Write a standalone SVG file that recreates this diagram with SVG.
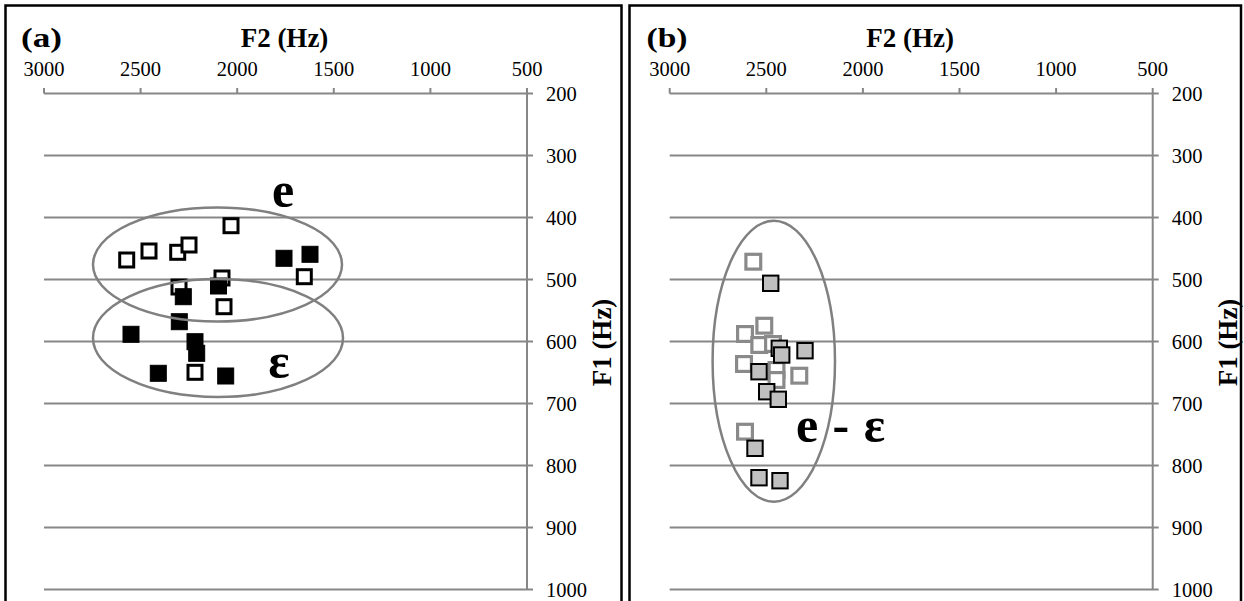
<svg xmlns="http://www.w3.org/2000/svg" width="1244" height="601" viewBox="0 0 1244 601">
<style>
.frame{fill:none;stroke:#000;stroke-width:2.5}
.grid{stroke:#878787;stroke-width:2;fill:none}
.ell{fill:none;stroke:#808080;stroke-width:2.5}
.tk{font-family:"Liberation Serif","Times New Roman",serif;font-size:20.5px;fill:#000}
.tx{text-anchor:middle}
.ttl{font-family:"Liberation Serif","Times New Roman",serif;font-size:27px;font-weight:bold;fill:#000}
.big{font-family:"Liberation Serif","Times New Roman",serif;font-size:50px;font-weight:bold;fill:#000}
.ob{fill:#fff;stroke:#000;stroke-width:3}
.fb{fill:#000;stroke:#000;stroke-width:1}
.og{fill:#fff;stroke:#8a8a8a;stroke-width:3.2}
.fg{fill:#c0c0c0;stroke:#000;stroke-width:2}
</style>
<defs>
<rect id="sOB" class="ob" x="-7" y="-7" width="14" height="14"/>
<rect id="sFB" class="fb" x="-8" y="-8" width="16" height="16"/>
<rect id="sOG" class="og" x="-7.4" y="-7.4" width="14.8" height="14.8"/>
<rect id="sFG" class="fg" x="-7.7" y="-7.7" width="15.4" height="15.4"/>
<g id="axes">
<path class="grid" d="M44,93.5H533M44,155.5H533M44,217.5H533M44,279.5H533M44,341.5H533M44,403.5H533M44,465.5H533M44,527.5H533M44,589.5H533M527,88V589.5M44,88V93.5M140.6,88V93.5M237.2,88V93.5M333.8,88V93.5M430.4,88V93.5"/>
<g class="tk tx">
<text x="44" y="76">3000</text><text x="140.6" y="76">2500</text><text x="237.2" y="76">2000</text><text x="333.8" y="76">1500</text><text x="430.4" y="76">1000</text><text x="527" y="76">500</text>
</g>
<g class="tk">
<text x="546" y="100.5">200</text><text x="546" y="162.5">300</text><text x="546" y="224.5">400</text><text x="546" y="286.5">500</text><text x="546" y="348.5">600</text><text x="546" y="410.5">700</text><text x="546" y="472.5">800</text><text x="546" y="534.5">900</text><text x="546" y="596.5">1000</text>
</g>
<text class="ttl tx" x="284.5" y="46.5">F2 (Hz)</text>
<text class="ttl tx" transform="translate(611,342.5) rotate(-90)">F1 (Hz)</text>
</g>
</defs>

<g id="panel-a">
<rect class="frame" x="5.5" y="5.5" width="616" height="610"/>
<text class="ttl" x="21" y="46.5" textLength="41" lengthAdjust="spacingAndGlyphs">(a)</text>
<use href="#axes"/>
<g id="open-a">
<use href="#sOB" x="231" y="225.7"/><use href="#sOB" x="126.7" y="260"/><use href="#sOB" x="149" y="251"/><use href="#sOB" x="177.7" y="252.3"/><use href="#sOB" x="189" y="245"/><use href="#sOB" x="222" y="278"/><use href="#sOB" x="304.3" y="276.7"/><use href="#sOB" x="179" y="287"/><use href="#sOB" x="224" y="306.7"/><use href="#sOB" x="195" y="372.3"/>
</g>
<g id="filled-a">
<use href="#sFB" x="284" y="258.3"/><use href="#sFB" x="310" y="254.3"/><use href="#sFB" x="218.5" y="286"/><use href="#sFB" x="183.3" y="296.7"/><use href="#sFB" x="179.3" y="321.7"/><use href="#sFB" x="131" y="334.3"/><use href="#sFB" x="195" y="341.7"/><use href="#sFB" x="196.7" y="353.3"/><use href="#sFB" x="158.3" y="373.3"/><use href="#sFB" x="225.7" y="376"/>
</g>
<g id="ellipse-e"><ellipse class="ell" cx="217.5" cy="264.5" rx="124.5" ry="57"/><text class="big tx" x="283" y="207">e</text></g>
<g id="ellipse-eps"><ellipse class="ell" cx="218" cy="338" rx="125" ry="59"/><text class="big tx" x="279" y="378">ε</text></g>
</g>

<g id="panel-b">
<rect class="frame" x="629.5" y="5.5" width="611.5" height="610"/>
<text class="ttl" x="646.5" y="46.5" textLength="41" lengthAdjust="spacingAndGlyphs">(b)</text>
<use href="#axes" x="625.7"/>
<g id="open-b">
<use href="#sOG" x="753.3" y="261.7"/><use href="#sOG" x="764.3" y="325.7"/><use href="#sOG" x="745" y="334"/><use href="#sOG" x="759.3" y="345"/><use href="#sOG" x="744" y="364"/><use href="#sOG" x="773" y="344"/><use href="#sOG" x="776.5" y="370"/><use href="#sOG" x="776.5" y="380"/><use href="#sOG" x="799.3" y="375.7"/><use href="#sOG" x="745" y="431.7"/>
</g>
<g id="filled-b">
<use href="#sFG" x="770.7" y="283.3"/><use href="#sFG" x="779.3" y="348.3"/><use href="#sFG" x="781.7" y="355"/><use href="#sFG" x="805" y="350.7"/><use href="#sFG" x="759" y="371.7"/><use href="#sFG" x="766.7" y="391.7"/><use href="#sFG" x="778.3" y="399.3"/><use href="#sFG" x="755" y="448.3"/><use href="#sFG" x="759" y="477.7"/><use href="#sFG" x="780" y="480.7"/>
</g>
<g id="ellipse-e-eps"><text class="big" x="796" y="442" xml:space="preserve" textLength="89" lengthAdjust="spacing">e - ε</text><ellipse class="ell" cx="773.8" cy="361.2" rx="61.2" ry="140.5"/></g>
</g>
</svg>
